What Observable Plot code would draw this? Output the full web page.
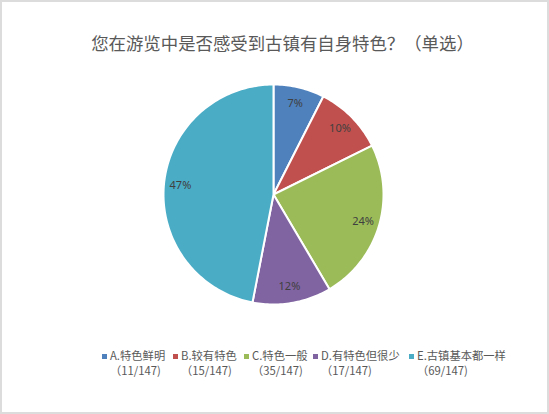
<!DOCTYPE html>
<html><head><meta charset="utf-8">
<script src="https://cdn.jsdelivr.net/npm/d3@7"></script>
<script src="https://cdn.jsdelivr.net/npm/@observablehq/plot@0.6"></script>
<style>
body{margin:0;background:#fff;}
#wrap{position:relative;width:545px;height:410px;border:2px solid #dcdcdc;background:#fff;font-family:"Noto Sans CJK SC","Noto Sans",sans-serif;color:#595959;overflow:hidden;}
#title{position:absolute;left:0;width:545px;top:28px;padding-left:16px;box-sizing:border-box;text-align:center;font-size:17.4px;}
#chart{position:absolute;left:149px;top:70px;}
.item{position:absolute;top:346px;font-size:11.3px;line-height:15px;white-space:nowrap;}
.sw{position:absolute;top:352px;width:5px;height:5px;}
</style></head>
<body><div id="wrap"><div id="title"></div><div id="chart"></div><div id="legend"></div></div>
<script>
const titleText = "您在游览中是否感受到古镇有自身特色？（单选）";
const categories = ["A.特色鲜明","B.较有特色","C.特色一般","D.有特色但很少","E.古镇基本都一样"];
const counts = [11, 15, 35, 17, 69];
const total = 147;
const colors = ["#4F81BD","#C0504D","#9BBB59","#8064A2","#4BACC6"];

document.getElementById("title").textContent = titleText;

const arcs = d3.pie().sort(null).value(d => d.n)(categories.map((k,i)=>({key:k,n:counts[i]})));
const pts = [];
const labels = [];
for (const a of arcs) {
  const k = a.data.key;
  pts.push({key:k, x:0, y:0});
  const steps = Math.max(4, Math.ceil((a.endAngle - a.startAngle) / 0.02));
  for (let s = 0; s <= steps; s++) {
    const t = a.startAngle + (a.endAngle - a.startAngle) * s / steps;
    pts.push({key:k, x:Math.sin(t), y:Math.cos(t)});
  }
  const m = (a.startAngle + a.endAngle) / 2;
  labels.push({key:k, x:0.85*Math.sin(m), y:0.85*Math.cos(m), text: Math.round(a.data.n/total*100) + "%"});
}

const plot = Plot.plot({
  width: 244, height: 244, margin: 12,
  x: {domain: [-1, 1], axis: null},
  y: {domain: [-1, 1], axis: null},
  color: {domain: categories, range: colors},
  marks: [
    Plot.line(pts, {x:"x", y:"y", z:"key", fill:"key", stroke:"white", strokeWidth:2, curve:"linear-closed"}),
    Plot.text(labels, {x:"x", y:"y", text:"text", fill:"#404040", fontSize:11, fontFamily:"Noto Sans, sans-serif"})
  ]
});
document.getElementById("chart").appendChild(plot);

const textLefts = [108, 179, 250, 319, 415];
const leg = document.getElementById("legend");
categories.forEach((c,i)=>{
  const s = document.createElement("div");
  s.className = "sw";
  s.style.left = (textLefts[i] - 8) + "px";
  s.style.background = colors[i];
  leg.appendChild(s);
  const d = document.createElement("div");
  d.className = "item";
  d.style.left = textLefts[i] + "px";
  d.innerHTML = `<div>${c}</div><div>（${counts[i]}/${total})</div>`;
  leg.appendChild(d);
});
</script></body></html>
